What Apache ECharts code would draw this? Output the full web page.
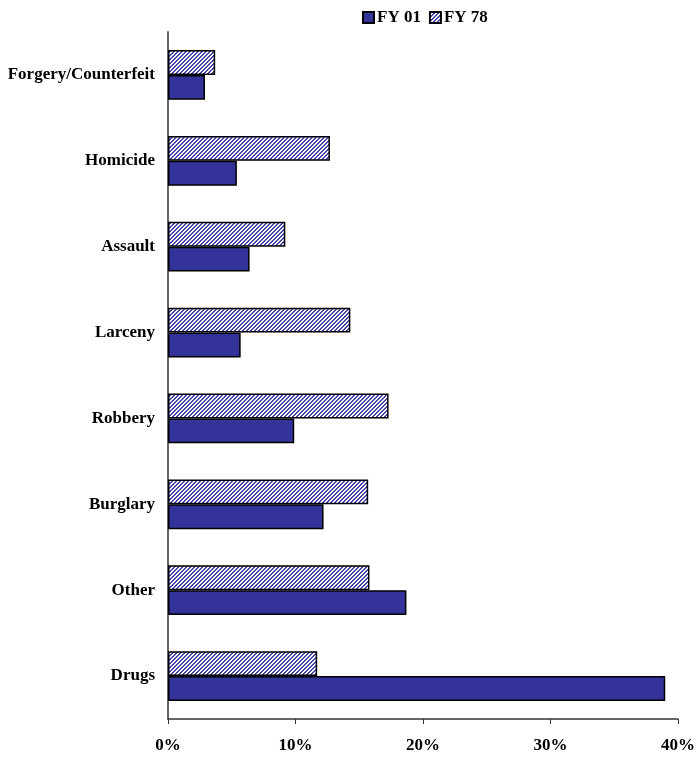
<!DOCTYPE html>
<html>
<head>
<meta charset="utf-8">
<script src="https://cdn.jsdelivr.net/npm/echarts@6/dist/echarts.min.js"></script>
<style>html,body{margin:0;padding:0;background:#fff}#c{width:700px;height:757px}</style>
</head>
<body>
<div id="c"></div>
<script>
const categories = ['Drugs','Other','Burglary','Robbery','Larceny','Assault','Homicide','Forgery/Counterfeit'];
const fy01 = [39.0, 18.7, 12.2, 9.9, 5.7, 6.4, 5.4, 2.9];
const fy78 = [11.7, 15.8, 15.7, 17.3, 14.3, 9.2, 12.7, 3.7];
const seriesNames = ['FY 01', 'FY 78'];
const xTicks = [0, 10, 20, 30, 40];

const blue = '#333399';
const pc = document.createElement('canvas');
pc.width = 4; pc.height = 4;
const ctx = pc.getContext('2d');
ctx.fillStyle = '#ffffff'; ctx.fillRect(0,0,4,4);
ctx.fillStyle = '#4444aa';
for (let x = 0; x < 4; x++) for (let y = 0; y < 4; y++) {
  if ((x + y) % 4 < 2) ctx.fillRect(x, y, 1, 1);
}

const font = '"Liberation Serif", "Times New Roman", serif';
const chart = echarts.init(document.getElementById('c'), null, {renderer:'canvas'});
chart.setOption({
  animation: false,
  backgroundColor: '#fff',
  legend: {
    top: 4, left: 357,
    icon: 'rect',
    itemWidth: 11, itemHeight: 11, itemGap: 8,
    textStyle: {fontFamily: font, fontWeight: 'bold', fontSize: 17, color: '#000', padding: [0,0,0,-2]},
    data: seriesNames
  },
  grid: {left: 168, right: 22, top: 32, bottom: 38, containLabel: false},
  xAxis: {
    type: 'value', min: xTicks[0], max: xTicks[xTicks.length-1], interval: 10,
    axisLine: {show: true, lineStyle: {color: '#333', width: 1.5}},
    axisTick: {show: true, length: 5, lineStyle: {color: '#333'}},
    splitLine: {show: false},
    axisLabel: {formatter: v => v + '%', fontFamily: font, fontWeight: 'bold', fontSize: 17, color: '#000', margin: 18}
  },
  yAxis: {
    type: 'category', data: categories,
    axisLine: {show: true, lineStyle: {color: '#666', width: 2}},
    axisTick: {show: false},
    axisLabel: {fontFamily: font, fontWeight: 'bold', fontSize: 17, color: '#000', margin: 13}
  },
  series: [
    {name: seriesNames[1], type: 'bar', data: fy78, barGap: '0%', barCategoryGap: '42%',
     itemStyle: {color: {image: pc, repeat: 'repeat'}, borderColor: '#000', borderWidth: 1.5}},
    {name: seriesNames[0], type: 'bar', data: fy01, barGap: '0%', barCategoryGap: '42%',
     itemStyle: {color: blue, borderColor: '#000', borderWidth: 1.5}}
  ]
});
</script>
</body>
</html>
